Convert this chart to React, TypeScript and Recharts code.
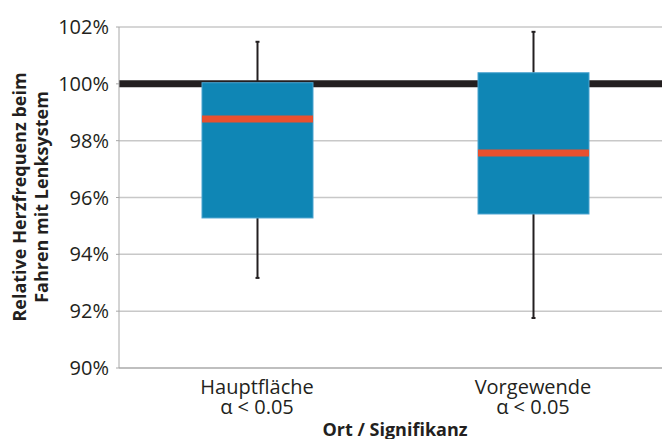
import React from 'react';
import { ComposedChart, Bar, XAxis, YAxis, CartesianGrid, Label } from 'recharts';

const categories = ['Hauptfläche', 'Vorgewende'];
const significance = ['α < 0.05', 'α < 0.05'];
const whiskerMin = [93.17, 91.76];
const q1 = [95.28, 95.42];
const median = [98.76, 97.57];
const q3 = [100.04, 100.39];
const whiskerMax = [101.48, 101.83];
const yTicks = [90, 92, 94, 96, 98, 100, 102];
const referenceValue = 100;

const data = categories.map((name, i) => ({
  name,
  sig: significance[i],
  box: [q1[i], q3[i]],
  min: whiskerMin[i],
  q1: q1[i],
  median: median[i],
  q3: q3[i],
  max: whiskerMax[i],
}));

const FONT = '"Open Sans", "Noto Sans", sans-serif';

const BoxShape = (props: any) => {
  const { x, y, width, height, payload } = props;
  const ppu = height / (payload.q3 - payload.q1);
  const cx = x + width / 2;
  const yMax = y - (payload.max - payload.q3) * ppu;
  const yMed = y + (payload.q3 - payload.median) * ppu;
  const yBottom = y + height;
  const yMin = yBottom + (payload.q1 - payload.min) * ppu;
  return (
    <g>
      <line x1={cx} x2={cx} y1={yMax} y2={y} stroke="#231f20" strokeWidth={2} />
      <line x1={cx - 2} x2={cx + 2} y1={yMax} y2={yMax} stroke="#231f20" strokeWidth={2} />
      <line x1={cx} x2={cx} y1={yBottom} y2={yMin} stroke="#231f20" strokeWidth={2} />
      <line x1={cx - 2} x2={cx + 2} y1={yMin} y2={yMin} stroke="#231f20" strokeWidth={2} />
      <rect x={x} y={y} width={width} height={height} fill="#0f86b5" stroke="#4aa3cf" strokeWidth={1} />
      <line x1={x} x2={x + width} y1={yMed} y2={yMed} stroke="#e8502f" strokeWidth={7} />
    </g>
  );
};

const XTick = (props: any) => {
  const { x, y, payload, index } = props;
  return (
    <g>
      <text x={x} y={y + 18} textAnchor="middle" fontFamily={FONT} fontSize={20} fill="#231f20">{payload.value}</text>
      <text x={x} y={y + 38} textAnchor="middle" fontFamily={FONT} fontSize={20} fill="#231f20">{significance[index]}</text>
    </g>
  );
};

const YLabel = () => {
  const cx = 31;
  const cy = 197;
  return (
    <text transform={`rotate(-90, ${cx}, ${cy})`} x={cx} y={cy} textAnchor="middle" fontFamily={FONT} fontSize={18} fontWeight="bold" fill="#231f20">
      <tspan x={cx} dy={-5}>Relative Herzfrequenz beim</tspan>
      <tspan x={cx} dy={22}>Fahren mit Lenksystem</tspan>
    </text>
  );
};

export default function App() {
  return (
    <div style={{ position: 'absolute', left: 0, top: 0 }}>
      <ComposedChart width={672} height={439} data={data} margin={{ top: 27, right: 1, bottom: 0, left: 0 }}>
        <CartesianGrid vertical={false} stroke="#c8c8c8" strokeWidth={1.5} />
        <CartesianGrid vertical={false} horizontalValues={[referenceValue]} stroke="#231f20" strokeWidth={7} />
        <XAxis
          dataKey="name"
          height={71}
          stroke="#a8a8a8"
          tickLine={false}
          tick={<XTick />}
          interval={0}
        >
          <Label
            content={() => (
              <text x={395} y={436} textAnchor="middle" fontFamily={FONT} fontSize={18} fontWeight="bold" fill="#231f20">Ort / Signifikanz</text>
            )}
          />
        </XAxis>
        <YAxis
          width={119}
          domain={[90, 102]}
          ticks={yTicks}
          allowDataOverflow
          stroke="#a8a8a8"
          tickSize={3}
          tickMargin={7}
          tickFormatter={(v: number) => `${v}%`}
          tick={{ fontFamily: FONT, fontSize: 20, fill: '#231f20' }}
        >
          <Label content={<YLabel />} />
        </YAxis>
        <Bar dataKey="box" barSize={111} shape={<BoxShape />} isAnimationActive={false} />
      </ComposedChart>
    </div>
  );
}
